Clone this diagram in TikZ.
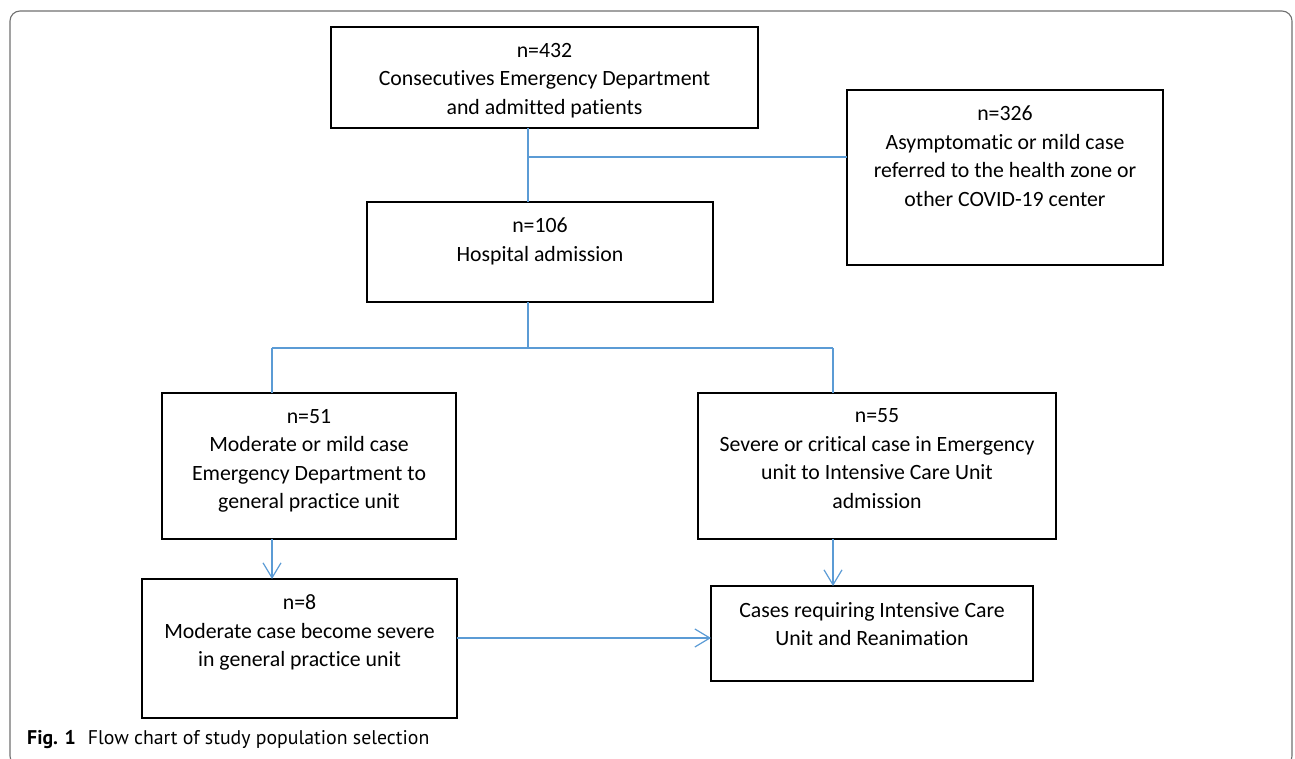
\documentclass[tikz,border=0pt]{standalone}
\usepackage{fontspec}
\setmainfont{Carlito}[Ligatures={NoCommon}]
\newfontfamily\capfont{PT Sans}
\usepackage{tikz}
\usetikzlibrary{arrows.meta}
\definecolor{linkblue}{HTML}{5B9BD5}
\definecolor{framegray}{HTML}{707070}
\newcommand{\boxtext}[3]{\parbox[c][#2][t]{#1}{\centering\vspace*{16pt}#3}}

\begin{document}
\begin{tikzpicture}[x=1pt,y=-1pt]
\tikzstyle{rect}=[rectangle, draw=black, line width=1.1pt, inner sep=0pt, outer sep=0pt, node distance=180pt, font=\fontsize{21.8pt}{28.5pt}\selectfont]
\tikzstyle{link}=[draw=linkblue, line width=1.2pt]
\tikzstyle{connect}=[link, -{Straight Barb[length=15pt, width=18pt]}]
\tikzstyle{frame}=[draw=framegray, line width=1.1pt, rounded corners=10pt]
\tikzstyle{capt}=[anchor=west, inner sep=0pt, font=\capfont\fontsize{19.8pt}{22pt}\selectfont]

  \useasboundingbox (0,0) rectangle (1295,759);
  \draw[frame] (10,11) rectangle (1292,766);

  \node[rect] (n432)  at (544.5,77.5)                          {\boxtext{427pt}{101pt}{n=432\\Consecutives Emergency Department\\and admitted patients}};
  \node[rect] (n326)  [right of =n432, xshift=280.5, yshift=-100] {\boxtext{316pt}{175pt}{n=326\\Asymptomatic or mild case\\referred to the health zone or\\other COVID-19 center}};
  \node[rect] (n106)  [below of =n432, xshift=-4.5, yshift=5.5]  {\boxtext{346pt}{100pt}{n=106\\Hospital admission}};
  \node[rect] (n51)   [below of =n106, xshift=-231, yshift=-34]  {\boxtext{294pt}{146pt}{n=51\\Moderate or mild case\\Emergency Department to\\general practice unit}};
  \node[rect] (n55)   [right of =n51,  xshift=388]               {\boxtext{358pt}{146pt}{n=55\\Severe or critical case in Emergency\\unit to Intensive Care Unit\\admission}};
  \node[rect] (n8)    [below of =n51,  xshift=-9.5, yshift=-2.5] {\boxtext{315pt}{139pt}{n=8\\Moderate case become severe\\in general practice unit}};
  \node[rect] (cases) [below of =n55,  xshift=-5, yshift=12.5]   {\boxtext{322pt}{95pt}{Cases requiring Intensive Care\\Unit and Reanimation}};

  \coordinate (j1) at (528,157);
  \coordinate (j2) at (528,348);
  \coordinate (jl) at (272,348);
  \coordinate (jr) at (833,348);
  \coordinate (jh) at (584,638);

  \draw[link] (n432.south -| j1) -- (n106.north -| j1);
  \draw[link] (j1) -- (n326.west |- j1);
  \draw[link] (n106.south -| j2) -- (j2);
  \draw[link] (jl) -- (jr);
  \draw[link] (jl) -- (n51.north -| jl);
  \draw[link] (jr) -- (n55.north -| jr);
  \draw[connect] (n51.south -| jl) -- (n8.north -| jl);
  \draw[connect] (n55.south -| jr) -- (cases.north -| jr);
  \draw[connect] (n8.east |- jh) -- (cases.west |- jh);

  \node[capt] (caption) at (27,740) {\textbf{Fig. 1}\hspace{0.6em}Flow chart of study population selection};

\end{tikzpicture}
\end{document}
